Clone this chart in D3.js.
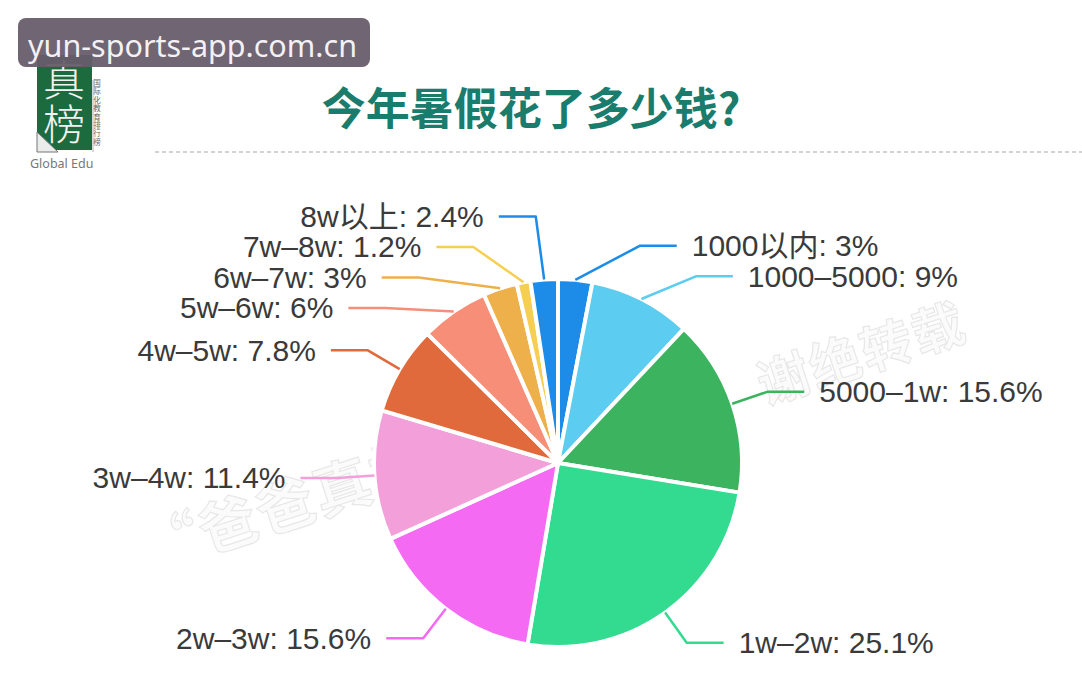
<!DOCTYPE html>
<html><head><meta charset="utf-8">
<script src="https://cdn.jsdelivr.net/npm/d3@7"></script>
<style>html,body{margin:0;padding:0;background:#fff;} svg{display:block;}</style>
</head><body>
<svg id="c" width="1082" height="697"></svg>
<script>
// ---- data ----
const categories = ["1000以内", "1000–5000", "5000–1w", "1w–2w", "2w–3w", "3w–4w", "4w–5w", "5w–6w", "6w–7w", "7w–8w", "8w以上"];
const values = [3, 9, 15.6, 25.1, 15.6, 11.4, 7.8, 6, 3, 1.2, 2.4];
const valueLabels = ["3%", "9%", "15.6%", "25.1%", "15.6%", "11.4%", "7.8%", "6%", "3%", "1.2%", "2.4%"];
const colors = ["#1d8ce8", "#5ccdf0", "#3cb45f", "#33db90", "#f56af2", "#f3a0da", "#e06a3c", "#f78f78", "#eeb04a", "#f6cf52", "#1d8ce8"];
const title = "今年暑假花了多少钱?";
const bannerText = "yun-sports-app.com.cn";
const watermarkLeft = "“爸爸真榜";
const watermarkRight = "谢绝转载";

const svg = d3.select("#c");
const W = 1082, H = 697;
svg.append("rect").attr("width", W).attr("height", H).attr("fill", "#fff");

// ---- header ----
svg.append("text").attr("x", 531).attr("y", 106)
  .attr("text-anchor", "middle").attr("dominant-baseline", "central")
  .attr("font-family", "'Noto Sans CJK SC', sans-serif").attr("font-weight", 700)
  .attr("font-size", 44).attr("fill", "#1a7c6c").text(title);

svg.append("line").attr("x1", 155).attr("x2", W).attr("y1", 152).attr("y2", 152)
  .attr("stroke", "#a8a8a8").attr("stroke-width", 1.2).attr("stroke-dasharray", "4,3");

// logo
const logo = svg.append("g");
logo.append("path").attr("d", "M37,55 L92,55 L92,150 L52,150 L37,135 Z").attr("fill", "#1c6b3f");
logo.append("path").attr("d", "M37,132 L37,152 L58,152 Z").attr("fill", "#e9ecea").attr("stroke", "#777").attr("stroke-width", 1);
logo.append("text").attr("x", 64).attr("y", 96).attr("text-anchor", "middle")
  .attr("font-family", "'Noto Sans CJK SC', sans-serif").attr("font-weight", 300)
  .attr("font-size", 42).attr("fill", "#f2f2f2").text("真");
logo.append("text").attr("x", 64).attr("y", 140).attr("text-anchor", "middle")
  .attr("font-family", "'Noto Sans CJK SC', sans-serif").attr("font-weight", 300)
  .attr("font-size", 42).attr("fill", "#f2f2f2").text("榜");
"国际化教育排行榜".split("").forEach((ch, i) => {
  logo.append("text").attr("x", 97).attr("y", 86 + i * 8.4).attr("text-anchor", "middle")
    .attr("font-family", "'Noto Sans CJK SC', sans-serif").attr("font-size", 7.5)
    .attr("fill", "#666").text(ch);
});
logo.append("line").attr("x1", 93).attr("x2", 93).attr("y1", 80).attr("y2", 152).attr("stroke", "#999").attr("stroke-width", 0.8);
logo.append("text").attr("x", 30).attr("y", 168)
  .attr("font-family", "'Noto Sans', sans-serif").attr("font-size", 12.5)
  .attr("fill", "#777").text("Global Edu");

// faint watermark (under the pie)
const wm = (txt, x, y, fs) => svg.append("text").attr("transform", `translate(${x},${y}) rotate(-18)`)
  .attr("font-family", "'Noto Sans CJK SC', sans-serif").attr("font-weight", 700)
  .attr("font-size", fs).attr("fill", "#fbfbfb")
  .attr("stroke", "#c8c8c8").attr("stroke-opacity", 0.4).attr("stroke-width", 1.2)
  .attr("letter-spacing", 2).text(txt);
wm(watermarkLeft, 150, 572, 58);
wm(watermarkRight, 765, 405, 52);

// ---- pie ----
const cx = 558, cy = 463, R = 184;
const pie = d3.pie().sort(null).value(d => d.v);
const data = categories.map((c, i) => ({ c, v: values[i], lab: valueLabels[i], col: colors[i] }));
const arcs = pie(data);
const arc = d3.arc().innerRadius(0).outerRadius(R);
const g = svg.append("g").attr("transform", `translate(${cx},${cy})`);
g.selectAll("path.slice").data(arcs).join("path").attr("class", "slice")
  .attr("d", arc).attr("fill", d => d.data.col)
  .attr("stroke", "#fff").attr("stroke-width", 4).attr("stroke-linejoin", "round");

// ---- label layout (echarts-like) ----
const lenLayout = 30, len1 = 37, len2 = 37, gap = 15, lineH = 30.5, rr = 232;
const items = arcs.map((a, i) => {
  const m = (a.startAngle + a.endAngle) / 2;
  const sx = Math.sin(m), sy = -Math.cos(m);
  return { a, side: sx >= 0 ? 1 : -1, p0: [cx + R * sx, cy + R * sy],
           ly: cy + (R + lenLayout) * sy,
           nx: cx + (R + len1) * sx, ny: cy + (R + len1) * sy };
});
[1, -1].forEach(side => {
  const list = items.filter(d => d.side === side).sort((p, q) => p.ly - q.ly);
  let clusters = list.map(d => [d]);
  const place = cl => {
    const mean = d3.mean(cl, d => d.ly);
    cl.forEach((d, k) => d.y = mean - (cl.length - 1) / 2 * lineH + k * lineH);
  };
  clusters.forEach(place);
  let changed = true;
  while (changed) {
    changed = false;
    for (let k = 0; k < clusters.length - 1; k++) {
      const A = clusters[k], B = clusters[k + 1];
      if (A[A.length - 1].y + lineH > B[0].y) {
        const M = A.concat(B); place(M);
        clusters.splice(k, 2, M); changed = true; break;
      }
    }
  }
  clusters.forEach(cl => {
    cl.forEach(d => {
      if (cl.length === 1) { d.x = d.nx; d.y = d.ny; return; }
      const dy = d.y - cy;
      const r2 = Math.max(rr, Math.abs(dy) + 1);
      d.x = cx + side * Math.sqrt(r2 * r2 - dy * dy);
    });
  });
});

const lab = svg.append("g");
items.forEach(d => {
  const x2 = d.x + d.side * len2;
  lab.append("polyline")
    .attr("points", [d.p0, [d.x, d.y], [x2, d.y]].map(p => p.join(",")).join(" "))
    .attr("fill", "none").attr("stroke", d.a.data.col).attr("stroke-width", 2.5)
    .attr("stroke-linejoin", "round");
  lab.append("text").attr("x", x2 + d.side * gap).attr("y", d.y)
    .attr("text-anchor", d.side > 0 ? "start" : "end").attr("dominant-baseline", "central")
    .attr("font-family", "'Liberation Sans', Arial, 'Noto Sans CJK SC', sans-serif")
    .attr("font-size", 30).attr("fill", "#3a3a3a")
    .text(`${d.a.data.c}: ${d.a.data.lab}`);
});

// ---- top banner ----
svg.append("rect").attr("x", 18).attr("y", 18).attr("width", 352).attr("height", 49)
  .attr("rx", 8).attr("fill", "#675d6b").attr("fill-opacity", 0.95);
svg.append("text").attr("x", 28).attr("y", 57)
  .attr("font-family", "'Noto Sans', sans-serif").attr("font-size", 30.5)
  .attr("fill", "#f4f1f4").text(bannerText);
</script>
</body></html>
